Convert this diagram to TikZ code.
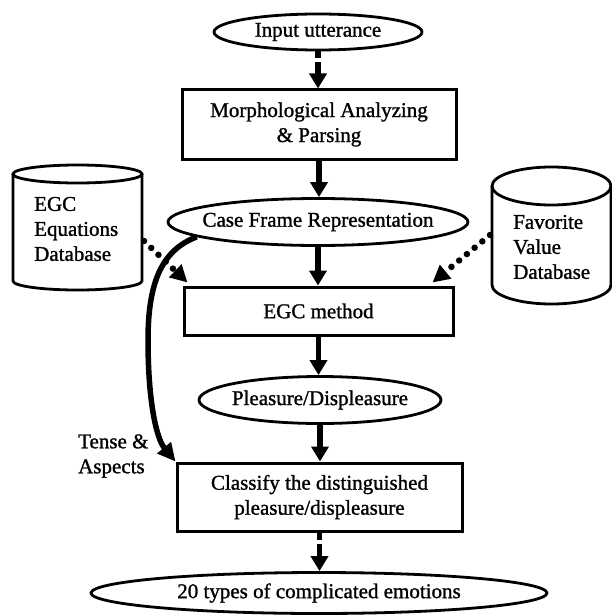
\documentclass[tikz,border=0pt]{standalone}
\usepackage{fontspec}
\setmainfont{Liberation Serif}[FakeBold=1.2]
\usetikzlibrary{shapes.geometric,arrows.meta}
\begin{document}
\begin{tikzpicture}[x=1pt,y=-1pt,
  every node/.style={font=\fontsize{21}{25}\selectfont, inner sep=0pt},
  ell/.style={draw, ellipse, line width=2.8pt},
  boxn/.style={draw, rectangle, line width=3pt, align=center},
  cyl/.style={line width=2.8pt},
  flow/.style={line width=5.5pt, -{Triangle[width=17pt,length=15pt]}},
  brokenflow/.style={flow, dash pattern=on 7pt off 4pt on 300pt off 0pt},
  dotline/.style={line width=6.5pt, line cap=round, dash pattern=on 0pt off 10pt,
    -{Triangle[width=17pt,length=17pt]}},
  curvearrow/.style={line width=5.5pt, -{Triangle[width=17pt,length=18pt]}}
]
\useasboundingbox (0,0) rectangle (612,615);

% main chain
\node[ell, minimum width=208pt, minimum height=36pt] (in) at (318,32) {\makebox[0pt]{Input utterance}};
\node[boxn, minimum width=274pt, minimum height=69pt] (morph) at (319,124.5) {Morphological Analyzing\\ \& Parsing};
\node[ell, minimum width=300pt, minimum height=47pt] (cf) at (318,222) {\makebox[0pt]{Case Frame Representation}};
\node[boxn, minimum width=269pt, minimum height=48pt] (egc) at (318.5,311) {EGC method};
\node[ell, minimum width=242pt, minimum height=47pt] (pl) at (320,400) {\makebox[0pt]{Pleasure/Displeasure}};
\node[boxn, minimum width=285pt, minimum height=68pt] (cls) at (319.5,497) {Classify the distinguished\\ pleasure/displeasure};
\node[ell, minimum width=456pt, minimum height=41pt] (out) at (319,593) {\makebox[0pt]{20 types of complicated emotions}};

% databases (cylinders)
\draw[cyl] (77.5,174) ellipse[x radius=64.5, y radius=9];
\draw[cyl] (13,174) -- (13,281) arc[start angle=180, end angle=0, x radius=64.5, y radius=9] -- (142,174);
\node[align=left, anchor=west] (egcdb) at (34,229) {EGC\\Equations\\Database};

\draw[cyl] (551.5,186) ellipse[x radius=59.5, y radius=19];
\draw[cyl] (492,186) -- (492,285) arc[start angle=180, end angle=0, x radius=59.5, y radius=19] -- (611,186);
\node[align=left, anchor=west] (favdb) at (513,247) {Favorite\\Value\\Database};

\coordinate (egcR) at (144,241);
\coordinate (favL) at (490,235);

% label
\node[align=left, anchor=west] (tense) at (78,456) {Tense \&\\Aspects};

% connectors
\draw[brokenflow] (in.south) -- (in.south |- morph.north);
\draw[flow] (morph.south) -- (morph.south |- cf.north);
\draw[flow] (cf.south) -- (cf.south |- egc.north);
\draw[flow] (egc.south) -- (egc.south |- pl.north);
\draw[flow] (pl.south) -- (pl.south |- cls.north);
\draw[brokenflow] (cls.south) -- (cls.south |- out.north);

\draw[dotline] (egcR) -- ([shift={(5,-3)}]egc.north west);
\draw[dotline] (favL) -- ([shift={(-22,-3)}]egc.north east);

\draw[curvearrow] (cf.187) .. controls (162,250) and (148,282) .. (148,340)
  .. controls (148,400) and (156,438) .. (cls.north west);
\end{tikzpicture}
\end{document}
